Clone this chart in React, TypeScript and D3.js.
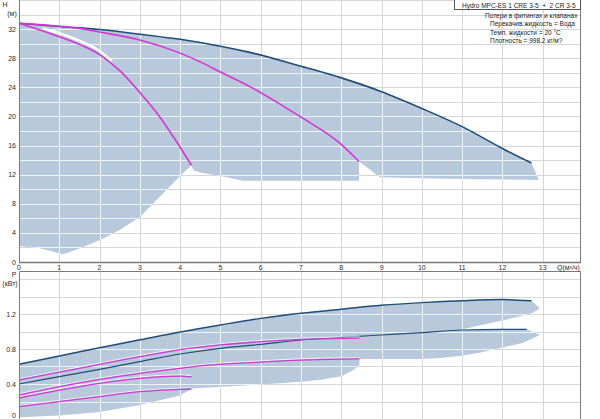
import React, { useEffect, useRef } from "react";
import * as d3 from "d3";

const WIDTH = 600;
const HEIGHT = 419;

// axes
const flowTicks = d3.range(0, 14);
const headTicks = [0, 4, 8, 12, 16, 20, 24, 28, 32];
const headGrid = d3.range(2, 37, 2);
const powerTicks = [0, 0.4, 0.8, 1.2];
const powerGrid = [0.2, 0.4, 0.6, 0.8, 1.0, 1.2, 1.4, 1.6];

// H(Q): max curve of the system
const outerQ = [0, 1, 2, 3, 4, 4.5, 5, 5.73, 7, 8, 9, 10, 11, 12, 12.72];
const outerH = [32.8, 32.35, 31.95, 31.3, 30.6, 30.15, 29.65, 28.8, 26.9, 25.3, 23.4, 21.1, 18.6, 15.6, 13.6];

// H(Q): lower limit of the operating area, right to left
const limitQ = [12.9, 12.0, 11.0, 10.0, 8.96, 8.44, 8.44, 5.57, 5.0, 4.5, 4.33, 4.28, 4.0, 3.5, 3.0, 2.5, 2.0, 1.4, 1.1, 0.52, 0];
const limitH = [11.26, 11.35, 11.4, 11.5, 11.63, 13.8, 11.17, 11.17, 11.8, 12.3, 12.6, 13.3, 11.8, 9.0, 6.2, 4.4, 3.0, 1.65, 1.05, 1.9, 2.2];

// H(Q): duty curves
const duty1Q = [0, 0.77, 1.5, 2, 2.5, 3, 3.5, 3.88, 4.28];
const duty1H = [32.8, 31.4, 29.9, 28.5, 26.3, 23.3, 19.9, 16.8, 13.3];
const duty2Q = [0, 1, 1.5, 2, 3, 4, 4.5, 5, 5.73, 6.97, 7.97, 8.44];
const duty2H = [32.8, 32.4, 32.1, 31.6, 30.5, 28.7, 27.5, 26.1, 24.1, 20.0, 16.3, 13.8];
const glintQ = [0.6, 1.0, 1.5, 2.0, 2.3];
const glintH = [32.1, 31.45, 30.4, 29.0, 27.6];

// P(Q)
const powerMaxQ = [0, 1, 2, 3, 4, 5, 6, 7, 8, 9, 10, 11, 12, 12.72];
const powerMaxP = [0.625, 0.72, 0.815, 0.905, 0.995, 1.075, 1.15, 1.208, 1.255, 1.3, 1.33, 1.352, 1.365, 1.352];
const powerMidQ = [0, 1, 2, 3, 4, 5, 6, 7, 8, 9, 10, 11, 12, 12.6];
const powerMidP = [0.4, 0.484, 0.568, 0.655, 0.743, 0.808, 0.853, 0.903, 0.933, 0.96, 0.987, 1.017, 1.025, 1.025];
const bandEdgeQ = [12.93, 12.73, 12.06, 11.47, 10.97];
const bandEdgeP = [1.265, 1.208, 1.131, 1.074, 1.02];
const powerLimitQ = [12.93, 12.5, 11.93, 11.43, 10.94, 10.4, 9.95, 8.45, 8.45, 8.3, 8.0, 7.5, 7.0, 5.5, 4.5, 4.3, 4.0, 3.0, 2.0, 1.0, 0];
const powerLimitP = [0.96, 0.87, 0.808, 0.758, 0.72, 0.695, 0.686, 0.686, 0.62, 0.56, 0.49, 0.45, 0.425, 0.38, 0.355, 0.35, 0.27, 0.16, 0.08, 0.04, 0.02];

const powerAQ = [0, 1, 2, 3, 4, 5, 6, 7, 8.45];
const powerAP = [0.446, 0.535, 0.625, 0.712, 0.792, 0.846, 0.884, 0.91, 0.925];
const powerBQ = [0, 1, 2, 3, 4, 4.5, 6, 7, 8, 8.45];
const powerBP = [0.274, 0.37, 0.453, 0.522, 0.579, 0.606, 0.65, 0.674, 0.684, 0.686];
const powerCQ = [0, 1, 2, 3, 4, 4.28];
const powerCP = [0.24, 0.331, 0.408, 0.465, 0.491, 0.483];
const powerDQ = [0, 1, 2, 3, 4, 4.28];
const powerDP = [0.141, 0.198, 0.255, 0.312, 0.339, 0.343];

const infoLines = [
  "Потери в фитингах и клапанах",
  "Перекачив.жидкость = Вода",
  "Темп. жидкости = 20 °C",
  "Плотность = 998.2 кг/м?",
];

const FILL = "#b7c9da";
const DARK = "#1f4d7a";
const PINK = "#d436d6";
const GRID = "#d6d6d6";
const FRAME = "#7a7a7a";
const FONT = "'Liberation Sans', Arial, sans-serif";

type Pt = [number, number];
const zip = (a: number[], b: number[]): Pt[] => a.map((v, i) => [v, b[i]]);

export default function App() {
  const svgRef = useRef<SVGSVGElement>(null);

  useEffect(() => {
    if (!svgRef.current) return;
    const svg = d3.select(svgRef.current);
    svg.selectAll("*").remove();

    const x = d3.scaleLinear().domain([0, 13.95]).range([19, 581]);
    const yH = d3.scaleLinear().domain([0, 36]).range([262, 0]);
    const yP = d3.scaleLinear().domain([0, 1.7]).range([419, 270.25]);

    const defs = svg.append("defs");

    const panels = [
      { y: yH, grid: headGrid, top: 0, bottom: 262, id: "clipH" },
      { y: yP, grid: powerGrid, top: 271, bottom: 419, id: "clipP" },
    ];

    // grid lines, drawn gray on white and again light over the areas
    const drawGrid = (
      p: (typeof panels)[number],
      color: string,
      clip?: string
    ) => {
      const g = svg.append("g").attr("stroke", color).attr("stroke-width", 1);
      if (clip) g.attr("clip-path", `url(#${clip})`);
      flowTicks.slice(1).forEach((q) => {
        g.append("line")
          .attr("x1", Math.round(x(q)) + 0.5).attr("x2", Math.round(x(q)) + 0.5)
          .attr("y1", p.top).attr("y2", p.bottom);
      });
      p.grid.forEach((v) => {
        g.append("line")
          .attr("x1", 19).attr("x2", 581)
          .attr("y1", Math.round(p.y(v)) + 0.5).attr("y2", Math.round(p.y(v)) + 0.5);
      });
    };

    panels.forEach((p) => drawGrid(p, GRID));

    const mono = (y: d3.ScaleLinear<number, number>) =>
      d3.line<Pt>().x((d) => x(d[0])).y((d) => y(d[1])).curve(d3.curveMonotoneX);
    const lin = (y: d3.ScaleLinear<number, number>) =>
      d3.line<Pt>().x((d) => x(d[0])).y((d) => y(d[1]));

    // operating area, head
    const areaH =
      mono(yH)(zip(outerQ, outerH))! +
      lin(yH)(zip(limitQ, limitH))!.replace(/^M/, "L") +
      "Z";

    // operating area, power
    const areaP =
      mono(yP)(zip(powerMaxQ, powerMaxP))! +
      lin(yP)(zip(bandEdgeQ, bandEdgeP))!.replace(/^M/, "L") +
      mono(yP)(zip(powerMidQ, powerMidP).filter((d) => d[0] >= 11))!.replace(/^M/, "L") +
      lin(yP)(zip(powerLimitQ, powerLimitP))!.replace(/^M/, "L") +
      "Z";

    defs.append("clipPath").attr("id", "clipH").append("path").attr("d", areaH);
    defs.append("clipPath").attr("id", "clipP").append("path").attr("d", areaP);

    svg.append("path").attr("d", areaH).attr("fill", FILL);
    svg.append("path").attr("d", areaP).attr("fill", FILL);

    panels.forEach((p) => drawGrid(p, "#eef3f8", p.id));

    // head curves
    svg.append("path")
      .attr("d", mono(yH)(zip(glintQ, glintH)))
      .attr("fill", "none").attr("stroke", "#ffffff").attr("stroke-width", 2.6);

    svg.append("path")
      .attr("d", mono(yH)(zip(outerQ, outerH)))
      .attr("fill", "none").attr("stroke", DARK).attr("stroke-width", 1.6);

    [zip(duty1Q, duty1H), zip(duty2Q, duty2H)].forEach((pts) => {
      svg.append("path")
        .attr("d", mono(yH)(pts))
        .attr("fill", "none").attr("stroke", PINK).attr("stroke-width", 1.6);
    });

    // power curves
    [zip(powerMaxQ, powerMaxP), zip(powerMidQ, powerMidP)].forEach((pts, i) => {
      svg.append("path")
        .attr("d", mono(yP)(pts))
        .attr("fill", "none").attr("stroke", DARK).attr("stroke-width", i === 0 ? 1.5 : 1.2);
    });

    const pinkP = [
      zip(powerAQ, powerAP),
      zip(powerBQ, powerBP),
      zip(powerCQ, powerCP),
      zip(powerDQ, powerDP),
    ];
    pinkP.forEach((pts) => {
      svg.append("path")
        .attr("d", mono(yP)(pts))
        .attr("transform", "translate(0,-1.3)")
        .attr("fill", "none").attr("stroke", "#ffffff").attr("stroke-opacity", 0.75).attr("stroke-width", 1);
      svg.append("path")
        .attr("d", mono(yP)(pts))
        .attr("fill", "none").attr("stroke", PINK).attr("stroke-width", 1.3);
    });

    // frames
    const frame = svg.append("g").attr("stroke", FRAME).attr("fill", "none");
    frame.append("path").attr("d", "M19.5,0V262M580.5,0V262").attr("stroke-width", 1);
    frame.append("path").attr("d", "M19,262.5H581").attr("stroke-width", 1.5);
    frame.append("path").attr("d", "M19.5,419V271.5H580.5V419").attr("stroke-width", 1);

    // tick labels
    const txt = svg.append("g")
      .attr("font-family", FONT).attr("font-size", 7).attr("fill", "#2a2a2a");

    headTicks.forEach((v) => {
      txt.append("text")
        .attr("x", 16).attr("y", yH(v) + 2.5)
        .attr("text-anchor", "end").text(String(v));
    });
    flowTicks.forEach((q) => {
      txt.append("text")
        .attr("x", x(q)).attr("y", 269.5)
        .attr("text-anchor", "middle").text(String(q));
    });
    txt.append("text").attr("x", 557).attr("y", 269.5).text("Q(м³/ч)");
    txt.append("text").attr("x", 5).attr("y", 6.5).attr("text-anchor", "middle").text("H");
    txt.append("text").attr("x", 12).attr("y", 15.5).attr("text-anchor", "middle").text("(м)");

    powerTicks.forEach((v) => {
      txt.append("text")
        .attr("x", 16).attr("y", yP(v) + (v === 0 ? -1.5 : 2.5))
        .attr("text-anchor", "end").text(String(v));
    });
    txt.append("text").attr("x", 14).attr("y", 276.5).attr("text-anchor", "middle").text("P");
    txt.append("text").attr("x", 10).attr("y", 285.5).attr("text-anchor", "middle").text("(кВт)");

    // info box
    svg.append("rect")
      .attr("x", 454.5).attr("y", -1).attr("width", 126).attr("height", 10.5)
      .attr("fill", "#ffffff").attr("stroke", "#555").attr("stroke-width", 1);
    svg.append("text")
      .attr("x", 462).attr("y", 7.5)
      .attr("font-family", FONT).attr("font-size", 6.5).attr("fill", "#222")
      .style("white-space", "pre")
      .text("Hydro MPC-ES 1 CRE 3-5  +  2 CR 3-5");

    infoLines.forEach((s, i) => {
      svg.append("text")
        .attr("x", i === 0 ? 485 : 490).attr("y", 18 + i * 8.3)
        .attr("font-family", FONT).attr("font-size", 6.5).attr("fill", "#222")
        .text(s);
    });
  }, []);

  return (
    <svg
      ref={svgRef}
      width={WIDTH}
      height={HEIGHT}
      style={{ display: "block", position: "absolute", left: 0, top: 0, background: "#fff" }}
    />
  );
}
